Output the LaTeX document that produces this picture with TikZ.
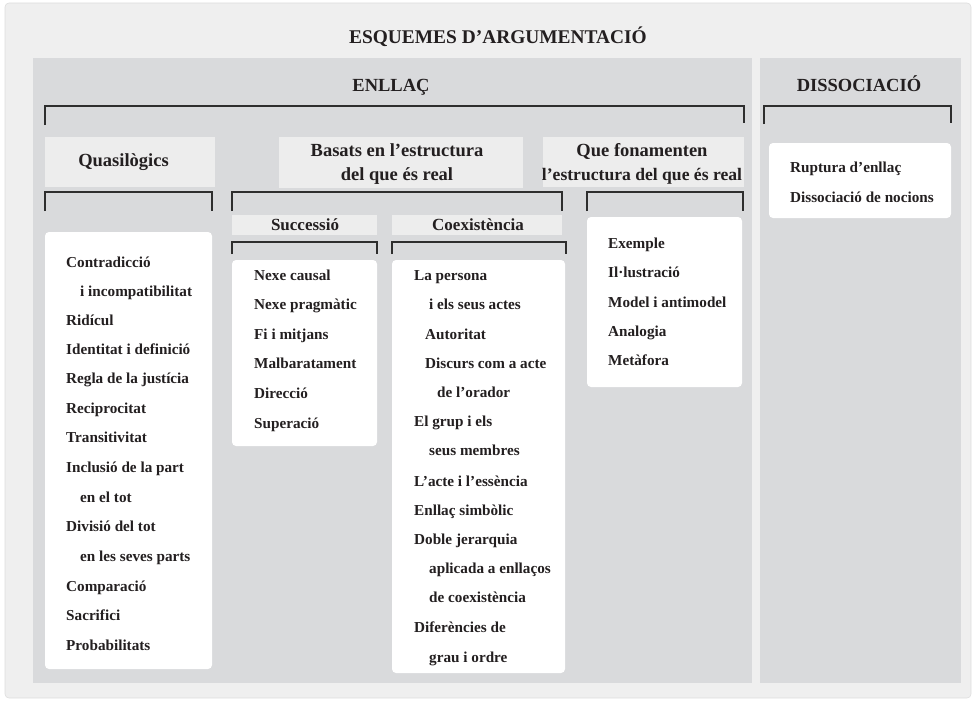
\documentclass[tikz,border=0pt]{standalone}
\usepackage{fontspec}
\setmainfont{Liberation Serif}
\definecolor{outerbg}{HTML}{EFEFEF}
\definecolor{outerline}{HTML}{DDDDDD}
\definecolor{panelbg}{HTML}{D9DADC}
\definecolor{headbg}{HTML}{EDEDED}
\definecolor{ink}{HTML}{231F20}
\definecolor{brk}{HTML}{2E2E2E}
\tikzset{
  panel/.style={fill=panelbg, draw=none},
  headbox/.style={fill=headbg, draw=none},
  listbox/.style={fill=white, draw=none, rounded corners=4pt},
  bracket/.style={draw=brk, line width=1.2pt, line join=miter},
  htext/.style={inner sep=0pt, anchor=base, text=ink, font=\fontsize{18.5}{22}\selectfont\bfseries},
  stext/.style={inner sep=0pt, anchor=base, text=ink, font=\fontsize{17}{20}\selectfont\bfseries},
  item/.style={inner sep=0pt, anchor=base west, text=ink, font=\fontsize{15.2}{18}\selectfont\bfseries},
}
\begin{document}
\begin{tikzpicture}[x=1pt,y=-1pt]
\useasboundingbox (0,0) rectangle (980,701);
% outer panel
\path[fill=outerbg, draw=outerline, line width=0.6pt, rounded corners=4pt] (5,3) rectangle (971,698);
% main panels
\path[panel] (33,58) rectangle (752,683);
\path[panel] (760,58) rectangle (961,683);
% titles
\node[htext, font=\fontsize{19.4}{22}\selectfont\bfseries] (title) at (498,44) {ESQUEMES D’ARGUMENTACIÓ};
\node[htext] (enllac) at (391,91.5) {ENLLAÇ};
\node[htext] (dissoc) at (859,91.5) {DISSOCIACIÓ};
% top brackets
\draw[bracket] (45,125) -- (45,106) -- (744,106) -- (744,123);
\draw[bracket] (764,124) -- (764,106) -- (951,106) -- (951,123);
% heading boxes
\path[headbox] (45,137) rectangle (215,187);
\path[headbox] (279,137) rectangle (523,188);
\path[headbox] (543,137) rectangle (744,187);
\node[htext] (quasi) at (123.5,166) {Quasilògics};
\node[htext] (basats1) at (397,156.5) {Basats en l’estructura};
\node[htext] (basats2) at (397,180) {del que és real};
\node[htext] (que1) at (642,156.5) {Que fonamenten};
\node[htext, font=\fontsize{17.6}{22}\selectfont\bfseries] (que2) at (642,180) {l’estructura del que és real};
% second-level brackets
\draw[bracket] (45,211) -- (45,192) -- (212,192) -- (212,211);
\draw[bracket] (232,211) -- (232,192) -- (562,192) -- (562,211);
\draw[bracket] (587,211) -- (587,192) -- (743,192) -- (743,211);
% successió / coexistència boxes
\path[headbox] (232,215) rectangle (377,235);
\path[headbox] (392,215) rectangle (562,235);
\node[stext] (succ) at (305,230.5) {Successió};
\node[stext] (coex) at (478,230.5) {Coexistència};
\draw[bracket] (232,254) -- (232,242) -- (377,242) -- (377,254);
\draw[bracket] (392,254) -- (392,242) -- (566,242) -- (566,254);
% list boxes
\path[listbox] (45,232) rectangle (212,669);
\path[listbox] (232,260) rectangle (377,446);
\path[listbox] (392,260) rectangle (565,673);
\path[listbox] (587,217) rectangle (742,387);
\path[listbox] (769,143) rectangle (951,218);
% Quasilògics list
\foreach \x/\y/\t [count=\i] in {
  66/262/Contradicció,
  80/291/i incompatibilitat,
  66/320/Ridícul,
  66/349/Identitat i definició,
  66/378/Regla de la justícia,
  66/408/Reciprocitat,
  66/437/Transitivitat,
  66/467/Inclusió de la part,
  80/497/en el tot,
  66/526/Divisió del tot,
  80/556/en les seves parts,
  66/586/Comparació,
  66/615/Sacrifici,
  66/645/Probabilitats}
  \node[item] (q\i) at (\x,\y+5.5) {\t};
% Successió list
\foreach \x/\y/\t [count=\i] in {
  254/275/Nexe causal,
  254/304/Nexe pragmàtic,
  254/334/Fi i mitjans,
  254/363/Malbaratament,
  254/393/Direcció,
  254/423/Superació}
  \node[item] (s\i) at (\x,\y+5.5) {\t};
% Coexistència list
\foreach \x/\y/\t [count=\i] in {
  414/275/La persona,
  429/304/i els seus actes,
  425/334/Autoritat,
  425/363/Discurs com a acte,
  437/392/de l’orador,
  414/421/El grup i els,
  429/450/seus membres,
  414/481/L’acte i l’essència,
  414/510/Enllaç simbòlic,
  414/539/Doble jerarquia,
  429/568/aplicada a enllaços,
  429/597/de coexistència,
  414/627/Diferències de,
  429/657/grau i ordre}
  \node[item] (c\i) at (\x,\y+5.5) {\t};
% Que fonamenten list
\foreach \x/\y/\t [count=\i] in {
  608/243/Exemple,
  608/272/Il·lustració,
  608/302/Model i antimodel,
  608/331/Analogia,
  608/360/Metàfora}
  \node[item] (f\i) at (\x,\y+5.5) {\t};
% Dissociació list
\node[item] (d1) at (790,172.5) {Ruptura d’enllaç};
\node[item] (d2) at (790,202.5) {Dissociació de nocions};
\end{tikzpicture}
\end{document}
